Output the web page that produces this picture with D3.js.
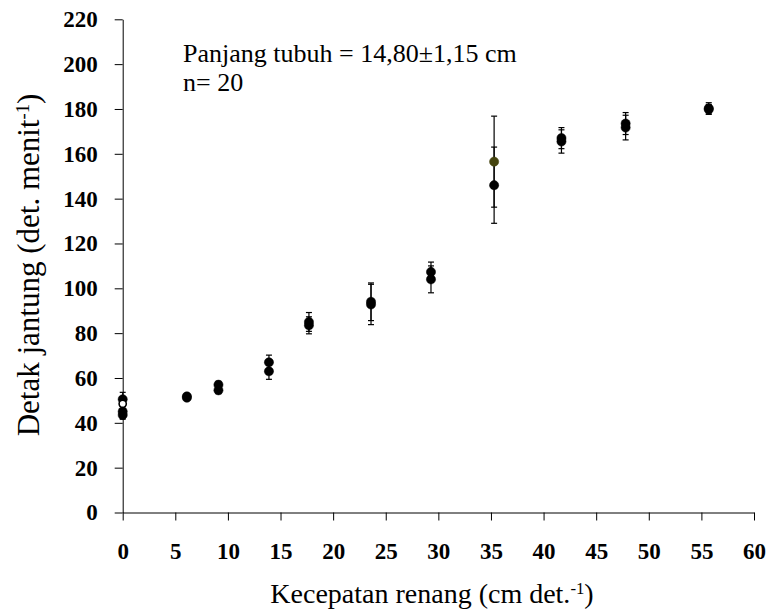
<!DOCTYPE html>
<html>
<head>
<meta charset="utf-8">
<script src="https://cdn.jsdelivr.net/npm/d3@7"></script>
<style>
  body { margin: 0; background: #fff; }
  svg { display: block; }
  text { font-family: "Liberation Serif", "Times New Roman", serif; fill: #000; }
  .tick text { font-weight: bold; font-size: 23px; }
  .domain, .tick line { stroke: #000; stroke-width: 1; }
</style>
</head>
<body>
<svg width="768" height="611"></svg>
<script>
// swimming speed (cm/s) for each test stage
const speed = [0, 6.1, 9.1, 13.9, 17.7, 23.6, 29.3, 35.3, 41.7, 47.8, 55.7];

// heart rate (beats/min), two measurements per stage, with SD
const trial1 = [50.5, 51.8, 57, 67, 85, 94, 107.3, 146, 167, 173.5, 180.3];
const sd1 = [3.1, 1.2, 1.5, 3.2, 4.2, 8.4, 4.4, 17, 4.7, 4.9, 2.5];
const trial2 = [45, 51.2, 54.5, 63, 83.5, 92.8, 104, 156.5, 165.5, 171.7, 179.8];
const sd2 = [1.5, 1.2, 1.5, 3.6, 3.8, 9, 6, 20.3, 5.2, 5.5, 2.2];

// extra readings at rest (speed 0)
const restRate = [43.5, 48.5];
const restSd = [1.9, 1];

const xTicks = [0, 5, 10, 15, 20, 25, 30, 35, 40, 45, 50, 55, 60];
const yTicks = [0, 20, 40, 60, 80, 100, 120, 140, 160, 180, 200, 220];

const MARKER_R = 4.6;
const CAP = 3;
const OLIVE = "#45440f";

var svg = d3.select("svg");

var plotLeft = 122.7, plotRight = 754, plotTop = 19.3, plotBottom = 512.5;

var x = d3.scaleLinear().domain([0, 60]).range([plotLeft, plotRight]);
var y = d3.scaleLinear().domain([0, 220]).range([plotBottom, plotTop]);

svg.append("g")
	.attr("transform", "translate(0," + plotBottom + ")")
	.call(d3.axisBottom(x)
		.tickValues(xTicks)
		.tickSize(8)
		.tickSizeOuter(0)
		.tickPadding(22));

svg.append("g")
	.attr("transform", "translate(" + plotLeft + ",0)")
	.call(d3.axisLeft(y)
		.tickValues(yTicks)
		.tickSize(8)
		.tickSizeOuter(0)
		.tickPadding(17));

// build point list
var points = [];
speed.forEach(function (s, i) {
	points.push({ x: s, y: trial1[i], sd: sd1[i], kind: "black" });
	points.push({ x: s, y: trial2[i], sd: sd2[i], kind: i == 7 ? "olive" : "black" });
});
restRate.forEach(function (r, i) {
	points.push({ x: 0, y: r, sd: restSd[i], kind: i == restRate.length - 1 ? "open" : "black" });
});

var bars = svg.append("g").attr("class", "errbars")
	.selectAll("g")
	.data(points)
	.enter().append("g");

bars.append("line")
	.attr("x1", function (d) { return x(d.x); })
	.attr("x2", function (d) { return x(d.x); })
	.attr("y1", function (d) { return y(d.y + d.sd); })
	.attr("y2", function (d) { return y(d.y - d.sd); });

bars.append("line")
	.attr("x1", function (d) { return x(d.x) - CAP; })
	.attr("x2", function (d) { return x(d.x) + CAP; })
	.attr("y1", function (d) { return y(d.y + d.sd); })
	.attr("y2", function (d) { return y(d.y + d.sd); });

bars.append("line")
	.attr("x1", function (d) { return x(d.x) - CAP; })
	.attr("x2", function (d) { return x(d.x) + CAP; })
	.attr("y1", function (d) { return y(d.y - d.sd); })
	.attr("y2", function (d) { return y(d.y - d.sd); });

bars.selectAll("line")
	.attr("stroke", "#000")
	.attr("stroke-width", 1.2);

svg.append("g").attr("class", "points")
	.selectAll("circle")
	.data(points)
	.enter().append("circle")
	.attr("cx", function (d) { return x(d.x); })
	.attr("cy", function (d) { return y(d.y); })
	.attr("r", function (d) { return d.kind == "open" ? 3.6 : MARKER_R; })
	.attr("fill", function (d) {
		if (d.kind == "open") return "#fff";
		if (d.kind == "olive") return OLIVE;
		return "#000";
	})
	.attr("stroke", function (d) { return d.kind == "olive" ? OLIVE : "#000"; })
	.attr("stroke-width", function (d) { return d.kind == "open" ? 1.6 : 0.5; });

// annotation
svg.append("text")
	.attr("x", 183)
	.attr("y", 62)
	.attr("font-size", 26)
	.text("Panjang tubuh = 14,80\u00b11,15 cm");

svg.append("text")
	.attr("x", 183)
	.attr("y", 91)
	.attr("font-size", 26)
	.text("n= 20");

// axis titles
var xt = svg.append("text")
	.attr("x", 432)
	.attr("y", 603)
	.attr("text-anchor", "middle")
	.attr("font-size", 28);
xt.append("tspan").text("Kecepatan renang (cm det.");
xt.append("tspan").attr("dy", "-0.55em").attr("font-size", "0.6em").text("-1");
xt.append("tspan").attr("dy", "0.33em").text(")");

var yt = svg.append("text")
	.attr("transform", "translate(39,265) rotate(-90)")
	.attr("text-anchor", "middle")
	.attr("font-size", 31);
yt.append("tspan").text("Detak jantung (det. menit");
yt.append("tspan").attr("dy", "-0.55em").attr("font-size", "0.6em").text("-1");
yt.append("tspan").attr("dy", "0.33em").text(")");
</script>
</body>
</html>
